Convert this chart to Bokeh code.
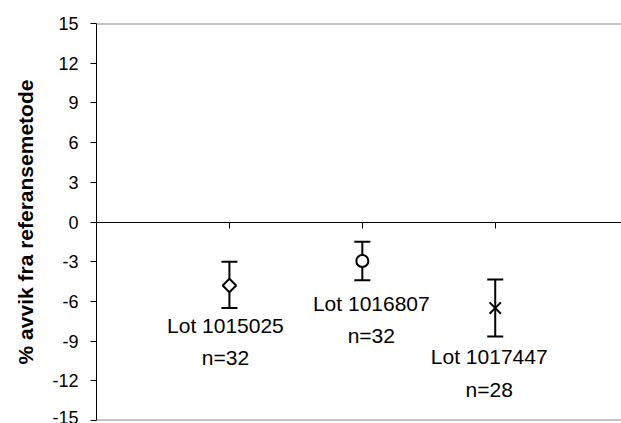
import numpy as np
from bokeh.plotting import figure
from bokeh.models import (ColumnDataSource, Whisker, TeeHead, FixedTicker, Span,
                          LinearAxis, Range1d)
from bokeh.core.properties import value
from bokeh.embed import file_html
from bokeh.resources import INLINE

# ---- data ----
lots = ["1015025", "1016807", "1017447"]
n_values = [32, 32, 28]
x_pos = [1, 2, 3]
means = [-4.8, -2.95, -6.5]
upper = [-3.0, -1.5, -4.35]
lower = [-6.5, -4.4, -8.65]
markers = ["square", "circle", "x"]
y_ticks = [-15, -12, -9, -6, -3, 0, 3, 6, 9, 12, 15]

# label placement (pixels relative to lower whisker end)
label_dx = [-4, 9, -6]
label_dy = [6, 12, 9]

FONT = "Liberation Sans"

p = figure(width=621, height=423, output_backend="svg", toolbar_location=None,
           x_range=Range1d(0, 3.95), y_range=Range1d(-15, 15),
           x_axis_location=None, min_border_left=96, min_border_top=23,
           min_border_bottom=3, min_border_right=0)
p.xgrid.visible = False
p.ygrid.visible = False
p.outline_line_color = None
p.background_fill_color = "white"
p.border_fill_color = "white"

# y axis
p.yaxis.ticker = FixedTicker(ticks=y_ticks)
p.yaxis.major_label_overrides = {t: str(t) for t in y_ticks}
p.yaxis.axis_label = "% avvik fra referansemetode"
p.yaxis.axis_label_text_font = FONT
p.yaxis.axis_label_text_font_style = "bold"
p.yaxis.axis_label_text_font_size = "21px"
p.yaxis.axis_label_text_color = "black"
p.yaxis.axis_label_standoff = 12
p.yaxis.major_label_text_font = FONT
p.yaxis.major_label_text_font_size = "18px"
p.yaxis.major_label_text_color = "black"
p.yaxis.major_label_standoff = 12
p.yaxis.major_tick_in = 0
p.yaxis.major_tick_out = 6
p.yaxis.minor_tick_line_color = None
p.yaxis.axis_line_color = "black"
p.yaxis.major_tick_line_color = "black"

# x axis at y = 0
xa = LinearAxis(fixed_location=0, ticker=FixedTicker(ticks=x_pos))
xa.major_label_overrides = {1: "", 2: "", 3: ""}
xa.major_tick_in = 0
xa.major_tick_out = 6
xa.minor_tick_line_color = None
xa.axis_line_color = "black"
xa.major_tick_line_color = "black"
p.add_layout(xa, "below")

# top and bottom frame lines
for loc in (15, -15):
    p.add_layout(Span(location=loc, dimension="width", line_color="#8c8c8c", line_width=2))

src = ColumnDataSource(dict(
    x=x_pos, mean=means, upper=upper, lower=lower, marker=markers,
    label=[f"Lot {l}\nn={n}" for l, n in zip(lots, n_values)],
    dx=label_dx, dy=label_dy,
    angle=[np.pi / 4 if m == "square" else 0 for m in markers],
    size=[9.5 if m == "square" else (16 if m == "x" else 12) for m in markers],
))

wh = Whisker(source=src, base="x", upper="upper", lower="lower",
             line_color="black", line_width=2,
             upper_head=TeeHead(size=16, line_color="black", line_width=2),
             lower_head=TeeHead(size=16, line_color="black", line_width=2))
p.add_layout(wh)

p.scatter("x", "mean", source=src, marker="marker", size="size", angle="angle",
          fill_color="white", line_color="black", line_width=2)

p.text("x", "lower", text="label", source=src, x_offset="dx", y_offset="dy",
       text_align="center", text_baseline="top", text_font=value(FONT),
       text_font_size="21px", text_color="black", text_line_height=1.4)

open("out.html", "w").write(file_html(p, INLINE))
